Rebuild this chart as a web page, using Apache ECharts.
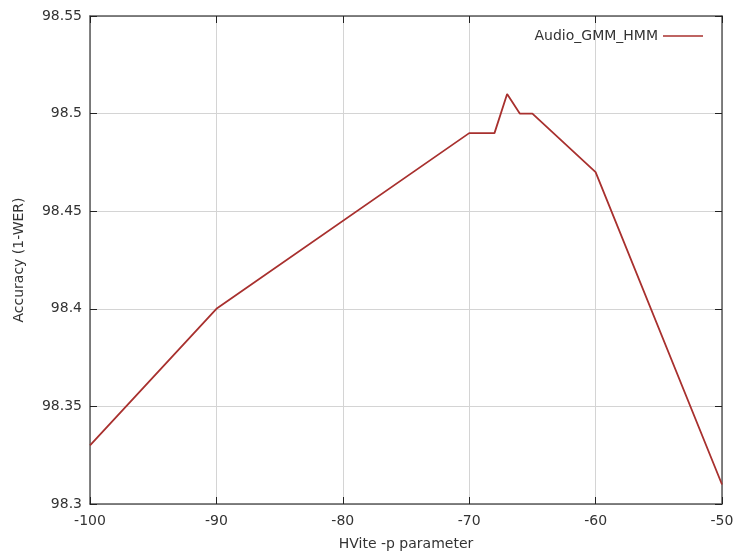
<!DOCTYPE html>
<html>
<head>
<meta charset="utf-8">
<script src="https://cdn.jsdelivr.net/npm/echarts@6/dist/echarts.min.js"></script>
<style>
  html, body { margin: 0; padding: 0; background: #fff; }
  #chart { width: 735px; height: 554px; }
</style>
</head>
<body>
<div id="chart"></div>
<script>
// HVite -p parameter vs accuracy
var pValues = [-100, -90, -70, -68, -67, -66, -65, -60, -50];
var accuracy = [98.33, 98.40, 98.49, 98.49, 98.51, 98.50, 98.50, 98.47, 98.31];
var seriesName = "Audio_GMM_HMM";

var points = pValues.map(function (p, i) { return [p, accuracy[i]]; });

var font = "DejaVu Sans";
var axisColor = "#5a5a5a";
var gridColor = "#d4d4d4";
var textColor = "#333";
var lineColor = "#a8302e";

var chart = echarts.init(document.getElementById("chart"));

chart.setOption({
  animation: false,
  textStyle: { fontFamily: font },
  grid: { left: 90, right: 13, top: 16, bottom: 50, outerBoundsMode: "none", containLabel: false },
  legend: {
    right: 27, top: 24,
    align: "right",
    icon: "rect",
    itemWidth: 40, itemHeight: 1.5,
    itemGap: 6,
    textStyle: { fontFamily: font, fontSize: 14, color: textColor },
    data: [seriesName]
  },
  xAxis: [{
    type: "value", min: -100, max: -50, interval: 10,
    name: "HVite -p parameter", nameLocation: "middle", nameGap: 33,
    nameTextStyle: { fontSize: 14, color: textColor },
    axisLine: { show: true, lineStyle: { color: axisColor, width: 1.5 } },
    axisTick: { show: true, inside: true, length: 7, lineStyle: { color: "#222" } },
    axisLabel: { fontSize: 14, color: textColor, margin: 10 },
    splitLine: { show: true, lineStyle: { color: gridColor } }
  }, {
    type: "value", position: "top", min: -100, max: -50, interval: 10,
    axisLine: { show: true, lineStyle: { color: axisColor, width: 1.5 } },
    axisTick: { show: true, inside: true, length: 7, lineStyle: { color: "#222" } },
    axisLabel: { show: false }, splitLine: { show: false }
  }],
  yAxis: [{
    type: "value", min: 98.3, max: 98.55, interval: 0.05,
    name: "Accuracy (1-WER)", nameLocation: "middle", nameGap: 64,
    nameTextStyle: { fontSize: 14, color: textColor },
    axisLine: { show: true, lineStyle: { color: axisColor, width: 1.5 } },
    axisTick: { show: true, inside: true, length: 7, lineStyle: { color: "#222" } },
    axisLabel: {
      fontSize: 14, color: textColor, margin: 8,
      formatter: function (v) { return String(parseFloat(v.toFixed(2))); }
    },
    splitLine: { show: true, lineStyle: { color: gridColor } }
  }, {
    type: "value", position: "right", min: 98.3, max: 98.55, interval: 0.05,
    axisLine: { show: true, lineStyle: { color: axisColor, width: 1.5 } },
    axisTick: { show: true, inside: true, length: 7, lineStyle: { color: "#222" } },
    axisLabel: { show: false }, splitLine: { show: false }
  }],
  series: [{
    name: seriesName,
    type: "line",
    data: points,
    showSymbol: false,
    symbol: "none",
    itemStyle: { color: lineColor },
    lineStyle: { color: lineColor, width: 1.8 }
  }]
});
</script>
</body>
</html>
